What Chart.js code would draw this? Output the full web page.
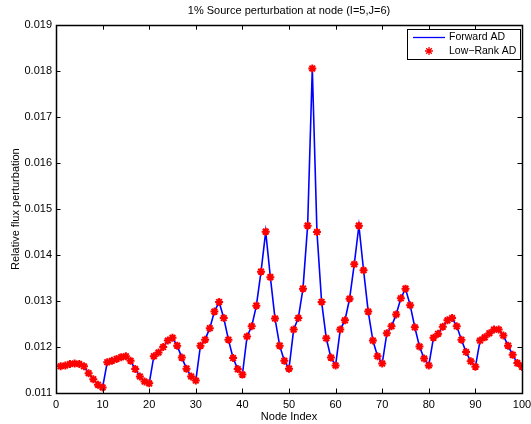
<!DOCTYPE html>
<html>
<head>
<meta charset="utf-8">
<title>Source perturbation</title>
<script src="https://cdn.jsdelivr.net/npm/chart.js@4.4.1/dist/chart.umd.min.js"></script>
<style>
  html, body { margin: 0; padding: 0; background: #fff; }
  #wrap { width: 531px; height: 424px; }
</style>
</head>
<body>
<div id="wrap"><canvas id="fluxChart" width="531" height="424"></canvas></div>
<script>
'use strict';

// node indices 1..100 and the relative flux perturbation at each
const nodeIndex = [
  1, 2, 3, 4, 5, 6, 7, 8, 9, 10,
  11, 12, 13, 14, 15, 16, 17, 18, 19, 20,
  21, 22, 23, 24, 25, 26, 27, 28, 29, 30,
  31, 32, 33, 34, 35, 36, 37, 38, 39, 40,
  41, 42, 43, 44, 45, 46, 47, 48, 49, 50,
  51, 52, 53, 54, 55, 56, 57, 58, 59, 60,
  61, 62, 63, 64, 65, 66, 67, 68, 69, 70,
  71, 72, 73, 74, 75, 76, 77, 78, 79, 80,
  81, 82, 83, 84, 85, 86, 87, 88, 89, 90,
  91, 92, 93, 94, 95, 96, 97, 98, 99, 100
];

const forwardAD = [
  0.01158, 0.01160, 0.01163, 0.01164, 0.01163, 0.01158, 0.01143, 0.01130, 0.01118, 0.01112,
  0.01167, 0.01170, 0.01174, 0.01178, 0.01180, 0.01170, 0.01152, 0.01136, 0.01125, 0.01121,
  0.01180, 0.01188, 0.01200, 0.01214, 0.01220, 0.01203, 0.01177, 0.01153, 0.01136, 0.01127,
  0.01203, 0.01216, 0.01241, 0.01277, 0.01298, 0.01263, 0.01216, 0.01176, 0.01152, 0.01140,
  0.01223, 0.01245, 0.01290, 0.01364, 0.01451, 0.01352, 0.01262, 0.01203, 0.01170, 0.01153,
  0.01238, 0.01263, 0.01327, 0.01464, 0.01806, 0.01450, 0.01298, 0.01219, 0.01177, 0.01160,
  0.01238, 0.01258, 0.01305, 0.01380, 0.01464, 0.01367, 0.01277, 0.01214, 0.01180, 0.01164,
  0.01230, 0.01245, 0.01271, 0.01306, 0.01327, 0.01291, 0.01243, 0.01201, 0.01175, 0.01160,
  0.01220, 0.01229, 0.01244, 0.01258, 0.01263, 0.01245, 0.01216, 0.01189, 0.01169, 0.01157,
  0.01214, 0.01221, 0.01230, 0.01238, 0.01238, 0.01225, 0.01203, 0.01183, 0.01165, 0.01157
];

// low-rank result sits on top of the forward one
const lowRankAD = forwardAD.slice();

const xTicks = [0, 10, 20, 30, 40, 50, 60, 70, 80, 90, 100];
const yTicks = [0.011, 0.012, 0.013, 0.014, 0.015, 0.016, 0.017, 0.018, 0.019];

const FONT = '"Liberation Sans", Arial, Helvetica, sans-serif';
const LINE_BLUE = '#0000ff';
const STAR_RED = '#ff0000';

function toPoints(values) {
  let pts = [];
  for (let i = 0; i < nodeIndex.length; i++) {
    pts.push({ x: nodeIndex[i], y: values[i] });
  }
  return pts;
}

const starStyle = {
  pointStyle: 'star',
  radius: 4,
  rotation: 0,
  borderWidth: 2
};

// axes box with inward ticks on all four sides, plus the boxed legend
const boxAxes = {
  id: 'boxAxes',
  afterDatasetsDraw(chart) {
    const c = chart.ctx;
    const a = chart.chartArea;
    const xs = chart.scales.x;
    const ys = chart.scales.y;
    const len = 4.5;
    c.save();
    c.strokeStyle = '#000';
    c.lineWidth = 1;
    c.beginPath();
    xTicks.forEach(function (t) {
      const px = Math.round(xs.getPixelForValue(t)) + 0.5;
      c.moveTo(px, a.bottom); c.lineTo(px, a.bottom - len);
      c.moveTo(px, a.top); c.lineTo(px, a.top + len);
    });
    yTicks.forEach(function (t) {
      const py = Math.round(ys.getPixelForValue(t)) + 0.5;
      c.moveTo(a.left, py); c.lineTo(a.left + len, py);
      c.moveTo(a.right, py); c.lineTo(a.right - len, py);
    });
    c.stroke();
    c.lineWidth = 1.5;
    c.strokeRect(Math.round(a.left) + 0.5, Math.round(a.top) + 0.5,
      Math.round(a.right - a.left), Math.round(a.bottom - a.top));
    c.restore();
  },
  afterDraw(chart) {
    const c = chart.ctx;
    const a = chart.chartArea;
    const ds = chart.data.datasets;
    const w = 113, h = 30;
    const left = Math.round(a.right - w - 2), top = Math.round(a.top + 4);
    c.save();
    c.fillStyle = '#fff';
    c.fillRect(left, top, w, h);
    c.strokeStyle = '#000';
    c.lineWidth = 1;
    c.strokeRect(left + 0.5, top + 0.5, w, h);

    c.beginPath();
    c.strokeStyle = LINE_BLUE;
    c.lineWidth = 1.3;
    c.moveTo(left + 6, top + 8.5);
    c.lineTo(left + 38, top + 8.5);
    c.stroke();

    c.strokeStyle = STAR_RED;
    c.fillStyle = STAR_RED;
    Chart.helpers.drawPoint(c, starStyle, left + 22, top + 22);

    c.fillStyle = '#000';
    c.font = '10.5px ' + FONT;
    c.textBaseline = 'middle';
    c.textAlign = 'left';
    c.fillText(ds[0].label, left + 42, top + 8.5);
    c.fillText(ds[1].label, left + 42, top + 22.5);
    c.restore();
  }
};

const ctx = document.getElementById('fluxChart');

let fluxConfig = {
  type: 'line',
  data: {
    datasets: [
      {
        label: 'Forward AD',
        data: toPoints(forwardAD),
        borderColor: LINE_BLUE,
        borderWidth: 1.6,
        pointRadius: 0,
        fill: false,
        tension: 0,
        order: 2
      },
      {
        label: 'Low\u2212Rank AD',
        data: toPoints(lowRankAD),
        showLine: false,
        pointStyle: 'star',
        pointRadius: starStyle.radius,
        pointBorderWidth: starStyle.borderWidth,
        pointBorderColor: STAR_RED,
        pointBackgroundColor: STAR_RED,
        borderColor: STAR_RED,
        order: 1
      }
    ]
  },
  plugins: [boxAxes],
  options: {
    responsive: false,
    animation: false,
    layout: { padding: { left: 0, right: 0, top: 0, bottom: 0 } },
    plugins: {
      legend: { display: false },
      tooltip: { enabled: false },
      title: {
        display: true,
        fullSize: false,
        text: '1% Source perturbation at node (I=5,J=6)',
        color: '#000',
        font: { family: FONT, size: 11, weight: 'normal' },
        padding: { top: 4, bottom: 8 }
      }
    },
    scales: {
      x: {
        type: 'linear',
        min: 0,
        max: 100,
        grid: { display: false, drawTicks: false },
        border: { display: false },
        afterBuildTicks(scale) {
          scale.ticks = xTicks.map(function (v) { return { value: v }; });
        },
        afterFit(scale) {
          scale.height = 31;
          scale.paddingLeft = 0;
          scale.paddingRight = 9;
        },
        ticks: {
          color: '#000',
          padding: 5,
          maxRotation: 0,
          font: { family: FONT, size: 11 }
        },
        title: {
          display: true,
          text: 'Node Index',
          color: '#000',
          font: { family: FONT, size: 11 },
          padding: { top: 2, bottom: 0 }
        }
      },
      y: {
        type: 'linear',
        min: 0.011,
        max: 0.019,
        grid: { display: false, drawTicks: false },
        border: { display: false },
        afterBuildTicks(scale) {
          scale.ticks = yTicks.map(function (v) { return { value: v }; });
        },
        afterFit(scale) { scale.width = 56; },
        ticks: {
          color: '#000',
          padding: 4,
          font: { family: FONT, size: 11 },
          callback: function (v) { return v.toFixed(3); }
        },
        title: {
          display: true,
          text: 'Relative flux perturbation',
          color: '#000',
          font: { family: FONT, size: 11 },
          padding: { top: 9, bottom: 0 }
        }
      }
    }
  }
};

new Chart(ctx, fluxConfig);
</script>
</body>
</html>
